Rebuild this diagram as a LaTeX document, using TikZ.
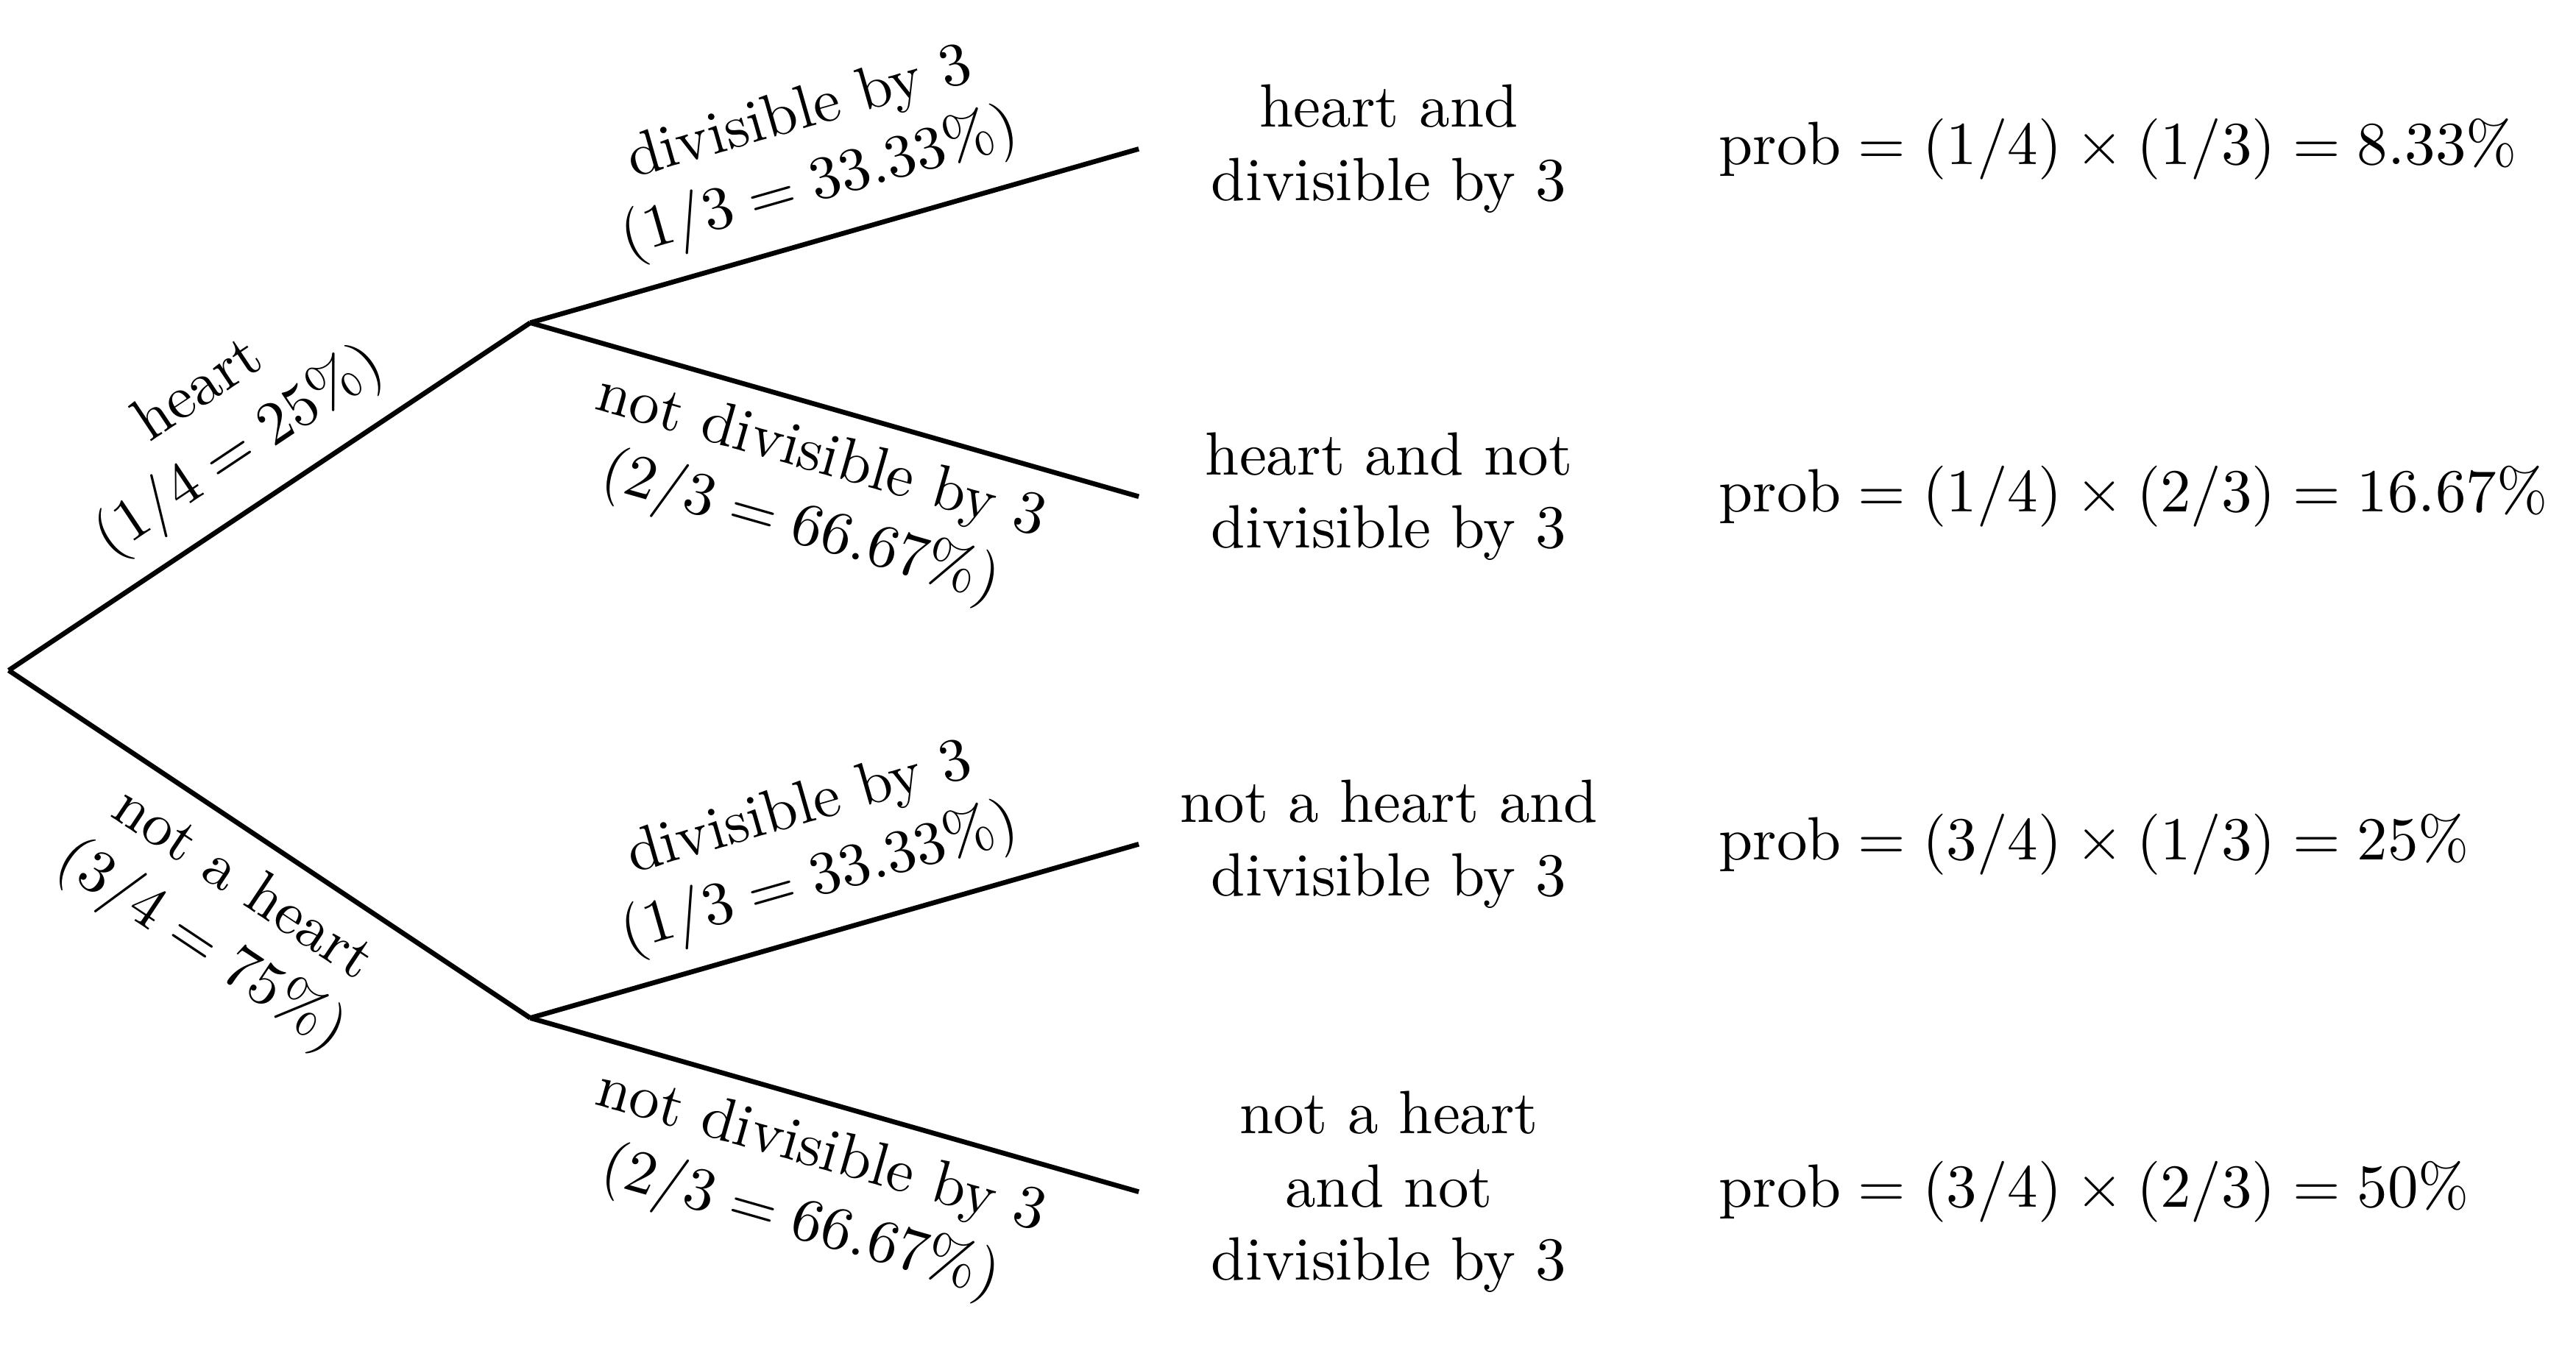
\documentclass[tikz,border=0pt]{standalone}
\usetikzlibrary{positioning}
\begin{document}
\begin{tikzpicture}[
    branch/.style={thick},
    chance/.style={midway, sloped, align=center},
    outcome/.style={text width=2.5cm, align=center},
    probtext/.style={right=0.40cm of #1}
]
    % Fix the margins of the picture
    \useasboundingbox (-0.05,-3.895) rectangle (14.767,3.857);

    % Draw the branch points
    \coordinate (start) at (0,0);
    \coordinate (heart) at (3,2);
    \coordinate (noheart) at (3,-2);
    \coordinate (hdiv) at (6.5,3);
    \coordinate (hnotdiv) at (6.5,1);
    \coordinate (nhdiv) at (6.5,-1);
    \coordinate (nhnotdiv) at (6.5,-3);

    % Draw the first level and its labels
    \draw[branch] (start) -- (heart) node[chance, above] {heart\\$(1/4 = 25\%)$};
    \draw[branch] (start) -- (noheart) node[chance, below] {not a heart\\$(3/4 = 75\%)$};

    % Draw the second level and its labels
    \draw[branch] (heart) -- (hdiv) node[chance, above] {divisible by 3\\$(1/3 = 33.33\%)$};
    \draw[branch] (heart) -- (hnotdiv) node[chance, below] {not divisible by 3\\$(2/3 = 66.67\%)$};
    \draw[branch] (noheart) -- (nhdiv) node[chance, above] {divisible by 3\\$(1/3 = 33.33\%)$};
    \draw[branch] (noheart) -- (nhnotdiv) node[chance, below] {not divisible by 3\\$(2/3 = 66.67\%)$};

    % Draw the outcomes
    \node[outcome, right=0.065cm of hdiv] (hdivtext) {heart and divisible by 3};
    \node[outcome, right=0.065cm of hnotdiv] (hnotdivtext) {heart and not divisible by 3};
    \node[outcome, right=0.065cm of nhdiv] (nhdivtext) {not a heart and divisible by 3};
    \node[outcome, right=0.065cm of nhnotdiv] (nhnotdivtext) {not a heart and not divisible by 3};

    % Draw the probabilities
    \node[probtext=hdivtext] (hdivprob) {$\mathrm{prob} = (1/4) \times (1/3) = 8.33\%$};
    \node[probtext=hnotdivtext] (hnotdivprob) {$\mathrm{prob} = (1/4) \times (2/3) = 16.67\%$};
    \node[probtext=nhdivtext] (nhdivprob) {$\mathrm{prob} = (3/4) \times (1/3) = 25\%$};
    \node[probtext=nhnotdivtext] (nhnotdivprob) {$\mathrm{prob} = (3/4) \times (2/3) = 50\%$};
\end{tikzpicture}
\end{document}
